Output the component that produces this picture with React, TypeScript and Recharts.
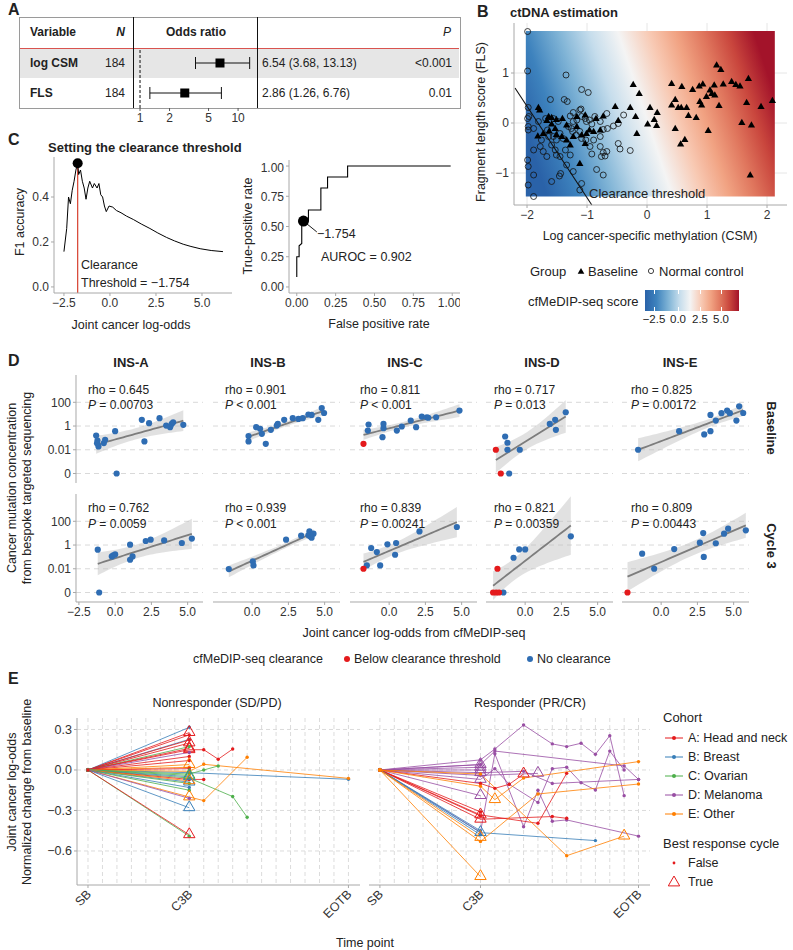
import React from 'react';
import {
  ScatterChart,
  Scatter,
  ComposedChart,
  LineChart,
  Line,
  Area,
  XAxis,
  YAxis,
  CartesianGrid,
  ReferenceLine,
  ReferenceArea,
  ReferenceDot,
  ErrorBar,
} from 'recharts';

const FONT = '"Liberation Sans", Arial, Helvetica, sans-serif';
const AXIS = '#a8a8a8';
const TICK = { fill: '#333', fontSize: 12 };
const RED = '#e41a1c';
const BLUE = '#2f6db3';

// ---- A: forest plot ----
const forestVars = ['log CSM', 'FLS'];
const forestN = [184, 184];
const forestOR = [6.54, 2.86];
const forestLo = [3.68, 1.26];
const forestHi = [13.13, 6.76];
const forestCI = ['6.54 (3.68, 13.13)', '2.86 (1.26, 6.76)'];
const forestP = ['<0.001', '0.01'];
const orTicks = [1, 2, 5, 10];

// ---- B: ctDNA estimation, [CSM, FLS] ----
const baselinePts = [
  [1.16, 1.16], [1.23, 1.07], [0.41, 0.79], [-0.23, 0.77], [0.58, 0.73], [-0.13, 0.59], [0.76, 0.67],
  [0.87, 0.74], [0.93, 0.78], [1.12, 0.76], [1.27, 0.78], [1.41, 0.83], [1.48, 0.77], [1.55, 0.74],
  [1.69, 0.89], [1.05, 0.66], [1.08, 0.59], [0.99, 0.53], [1.13, 0.56], [0.47, 0.47], [0.88, 0.43],
  [0.91, 0.36], [1.66, 0.41], [2.09, 0.45], [1.9, 0.33], [1.2, 0.35], [0.41, 0.36], [0.52, 0.31],
  [0.66, 0.31], [0.57, 0.31], [0.05, 0.31], [-0.28, 0.31], [-0.53, 0.33], [0.17, 0.21], [0.69, 0.15],
  [0.82, 0.11], [0.12, 0.07], [-0.19, 0.13], [0.01, -0.02], [0.16, -0.05], [0.47, -0.11], [1.02, -0.15],
  [1.58, 0.01], [1.74, -0.04], [0.63, -0.33], [0.56, -0.42], [-0.17, -0.21], [-0.48, 0.05], [-0.73, 0.14],
  [-0.85, 0.09], [-1.03, 0.16], [-1.17, 0.13], [-1.41, 0.09], [-1.51, 0.07], [-1.59, 0.11], [-1.64, 0.13],
  [-1.79, 0.26], [-1.81, 0.31], [-1.82, -0.26], [-1.73, -0.21], [-1.63, -0.16], [-1.53, -0.11], [-1.51, -0.23],
  [-1.42, -0.27], [-1.34, -0.34], [-1.28, -0.44], [-1.23, -0.27], [-1.09, -0.24], [-1.03, -0.41], [-1.01, -0.21],
  [-0.96, -0.14], [-0.89, -0.17], [-0.78, -0.14], [-1.12, -0.81], [1.72, -1.04], [-1.17, -0.07], [-1.34, -0.04],
  [-1.59, -0.02], [-1.67, 0.05],
];
const controlPts = [
  [-1.99, 1.83], [-1.99, 1.04], [-1.35, 0.96], [-1.09, 0.67], [-0.98, 0.61], [-1.61, 0.47], [-1.38, 0.47],
  [-1.33, 0.43], [-1.98, 0.31], [-1.97, 0.13], [-1.99, 0.09], [-1.98, -0.07], [-1.98, -0.14], [-1.89, -0.11],
  [-1.81, 0.03], [-1.69, 0.09], [-1.56, 0.09], [-1.48, 0.03], [-1.23, 0.03], [-1.12, 0.26], [-1.1, 0.28],
  [-1.23, 0.21], [-1.28, 0.14], [-1.09, 0.13], [-1.03, 0.09], [-0.96, 0.06], [-0.92, -0.02], [-0.73, -0.13],
  [-0.66, -0.11], [-0.56, -0.06], [-0.48, -0.01], [-0.39, 0.16], [-1.12, -0.17], [-1.18, -0.24], [-1.24, -0.17],
  [-1.09, -0.31], [-1.02, -0.34], [-0.95, -0.47], [-0.92, -0.62], [-0.78, -0.47], [-0.73, -0.59], [-0.7, -0.66],
  [-0.76, -0.67], [-0.67, -0.57], [-0.48, -0.41], [-0.45, -0.52], [-0.28, -0.55], [-1.89, -0.54], [-1.78, -0.47],
  [-1.67, -0.67], [-1.73, -0.57], [-1.59, -0.44], [-1.53, -0.54], [-1.51, -0.64], [-1.45, -0.67], [-1.36, -0.54],
  [-1.28, -0.64], [-1.34, -0.84], [-1.99, -0.74], [-1.98, -0.87], [-1.89, -1.04], [-1.98, -1.24], [-1.59, -1.17],
  [-1.46, -1.06], [-1.44, -1.01], [-1.23, -0.97], [-1.09, -1.21], [-0.84, -0.93], [-0.73, -1.04], [-1.12, -1.34],
  [-1.89, -1.47], [-1.45, -0.21], [-1.4, -0.31], [-1.31, -0.07], [-1.26, -0.11], [-1.17, 0.06], [-1.01, 0.03],
  [-0.87, 0.13], [-0.78, 0.03], [-0.67, 0.19], [-1.66, -0.14], [-1.56, -0.27], [-1.51, -0.34], [-1.64, -0.27],
  [-1.76, -0.34], [-0.78, -0.27], [-0.89, -0.34],
];
const csmTicks = [-2, -1, 0, 1, 2];
const flsTicks = [-1, 0, 1];
const scoreTicks = ['−2.5', '0.0', '2.5', '5.0'];
const rdbu: [number, string][] = [
  [0, '#2a62a8'], [0.12, '#3d82bd'], [0.25, '#80b4d6'], [0.37, '#c6ddec'], [0.48, '#f4f4f4'],
  [0.6, '#f8c9b3'], [0.7, '#f1a383'], [0.8, '#e0775e'], [0.9, '#c9463d'], [1, '#a3132a'],
];

// ---- C: clearance threshold ----
const f1Curve = [
  [-2.5, 0.157], [-2.35, 0.26], [-2.25, 0.4], [-2.15, 0.37], [-2.05, 0.43], [-1.95, 0.47], [-1.85, 0.52],
  [-1.754, 0.55], [-1.7, 0.5], [-1.6, 0.52], [-1.5, 0.47], [-1.4, 0.44], [-1.3, 0.39], [-1.2, 0.44],
  [-1.1, 0.47], [-0.95, 0.44], [-0.85, 0.46], [-0.7, 0.44], [-0.6, 0.46], [-0.5, 0.41], [-0.4, 0.4],
  [-0.3, 0.36], [-0.2, 0.335], [-0.05, 0.36], [0.15, 0.355], [0.35, 0.34], [0.6, 0.33], [0.9, 0.315],
  [1.27, 0.3], [1.7, 0.28], [2.17, 0.26], [2.6, 0.24], [3.08, 0.22], [3.5, 0.205], [3.98, 0.19],
  [4.4, 0.18], [4.9, 0.17], [5.5, 0.162], [6.14, 0.157],
];
const rocCurve = [
  [0, 0.083], [0, 0.25], [0.015, 0.25], [0.015, 0.34], [0.032, 0.36], [0.032, 0.545], [0.075, 0.545],
  [0.075, 0.636], [0.155, 0.636], [0.155, 0.818], [0.198, 0.818], [0.198, 0.909], [0.327, 0.909],
  [0.327, 1], [0.99, 1],
];
const threshold = -1.754;
const bestF1 = 0.55;
const rocPoint = [0.043, 0.545];

// ---- D: [log-odds, log10 concentration (−4 = undetected), below threshold] ----
const insNames = ['INS-A', 'INS-B', 'INS-C', 'INS-D', 'INS-E'];
const rhoBaseline = ['0.645', '0.901', '0.811', '0.717', '0.825'];
const pBaseline = ['= 0.00703', '< 0.001', '< 0.001', '= 0.013', '= 0.00172'];
const rhoCycle3 = ['0.762', '0.939', '0.839', '0.821', '0.809'];
const pCycle3 = ['= 0.0059', '< 0.001', '= 0.00241', '= 0.00359', '= 0.00443'];
const baseA = [[-1.31, -0.8], [-1.22, -1.22], [-1.15, -1.72], [-1.25, -1.45], [-0.78, -1.44], [-0.69, -1.16], [0.0, -0.43], [0.1, -4], [1.84, 0.52], [2.34, 0.24], [2.02, -1.3], [3.06, 0.66], [3.52, 0.04], [3.79, -0.1], [3.9, 0.18], [4.0, 0.32], [4.7, 0.1]];
const baseB = [[-0.25, -0.85], [-0.25, -1.3], [0.28, -0.1], [0.55, -0.23], [0.67, -0.66], [0.94, -1.5], [1.29, -0.32], [1.7, 0.04], [1.77, 0.18], [2.21, 0.52], [2.8, 0.66], [3.19, 0.6], [3.49, 0.66], [3.88, 0.97], [4.1, 0.94], [4.56, 0.52], [4.8, 1.52], [4.96, 1.1]];
const baseC = [[-1.77, -1.5, 1], [-1.47, -0.38], [-1.42, 0.13], [-0.39, 0.18], [-0.39, -0.18], [-0.46, -0.94], [0.53, -0.38], [0.87, -0.04], [1.49, 0.46], [1.86, -0.1], [2.25, 0.8], [2.6, 0.74], [2.7, 0.7], [3.24, 0.74], [4.85, 1.3]];
const baseD = [[-2.02, -2.0, 1], [-1.38, -0.88], [-1.22, -1.41], [-1.22, -2.0], [-0.37, -2.0], [1.7, 0.18], [2.07, 0.52], [2.12, -0.32], [2.8, 1.16], [-1.68, -4, 1], [-1.1, -4]];
const baseE = [[-1.59, -2.0], [1.24, -0.43], [2.97, -0.71], [3.4, -0.43], [3.4, 0.94], [3.77, 0.46], [4.16, 1.08], [4.55, 1.3], [4.74, 1.08], [5.19, 0.46], [5.38, 1.66], [5.66, 1.1]];
const c3A = [[-1.2, -0.39], [-1.1, -4], [-0.23, -0.96], [-0.13, -0.87], [0.0, -0.79], [1.03, 0.03], [1.03, -1.24], [1.2, -0.96], [2.11, 0.34], [2.45, 0.45], [3.38, 0.39], [4.6, 0.17], [5.29, 0.54]];
const c3B = [[-1.61, -2.03], [0.05, -1.38], [0.09, -1.72], [2.34, 0.45], [3.38, 0.79], [3.88, 0.82], [3.95, 1.15], [4.0, 0.73], [4.23, 0.96], [4.1, 0.62]];
const c3C = [[-1.77, -2.0, 1], [-1.54, -1.72], [-1.24, -0.25], [-0.85, -0.59], [-0.62, -1.72], [-0.12, 0.06], [0.48, 0.17], [0.41, -0.82], [2.09, 1.15], [4.67, 1.52]];
const c3D = [[-1.91, -2.0, 1], [-2.21, -4, 1], [-2.0, -4, 1], [-1.8, -4, 1], [-1.5, -4], [-0.8, -1.07], [-0.41, -0.37], [0.0, -0.37], [3.15, 0.73]];
const c3E = [[-2.32, -4, 1], [-1.31, -0.73], [-0.48, -2.0], [0.9, -0.34], [2.67, 0.2], [2.9, 1.01], [2.94, -1.0], [3.77, 0.15], [4.34, 0.96], [4.62, 1.38], [5.84, 1.24]];
const baselineRows = [baseA, baseB, baseC, baseD, baseE];
const cycle3Rows = [c3A, c3B, c3C, c3D, c3E];
const concTicks = [-4, -2, 0, 2];
const concLabels = ['0', '0.01', '1', '100'];
const lodTicks = [-2.5, 0, 2.5, 5];
const insZero = [115, 252, 389, 525, 661];
const insTitleX = [131, 268, 405, 542, 680];
const rhoX = [88, 225, 360, 494, 631];

// ---- E: [cohort, best-response point index, [time index, change]] ----
const cohortKeys = ['A', 'B', 'C', 'D', 'E'];
const cohortNames = ['A: Head and neck', 'B: Breast', 'C: Ovarian', 'D: Melanoma', 'E: Other'];
const cohortColors = ['#e41a1c', '#377eb8', '#4daf4a', '#984ea3', '#ff7f00'];
const timeTickPos = [0, 7, 18];
const timeTickLab = ['SB', 'C3B', 'EOTB'];
const timeGrid = [0, 1, 2, 3, 4, 5, 6, 7, 8, 9, 10, 11, 12, 13, 14, 15, 16, 17, 18];
const chgTicks = [-0.6, -0.3, 0, 0.3];
const nonresponder: [string, number, number[][]][] = [
  ['B', -1, [[0, 0], [7, 0.316]]],
  ['A', 1, [[0, 0], [7, 0.277]]],
  ['A', -1, [[0, 0], [7, 0.26]]],
  ['B', -1, [[0, 0], [7, 0.227]]],
  ['A', -1, [[0, 0], [7, 0.222]]],
  ['A', 1, [[0, 0], [7, 0.2]]],
  ['C', -1, [[0, 0], [7, 0.173]]],
  ['A', 1, [[0, 0], [7, 0.16]]],
  ['A', 1, [[0, 0], [7, 0.15], [8, 0.15], [9, 0.08], [10, 0.155]]],
  ['D', -1, [[0, 0], [7, 0.13]]],
  ['A', -1, [[0, 0], [7, 0.1]]],
  ['A', -1, [[0, 0], [7, 0.07]]],
  ['E', 1, [[0, 0], [7, 0.04]]],
  ['E', -1, [[0, 0], [7, 0.02]]],
  ['A', -1, [[0, 0], [7, 0.01]]],
  ['B', -1, [[0, 0], [7, -0.02], [18, -0.069]]],
  ['E', -1, [[0, 0], [7, -0.01], [8, 0.042], [18, -0.062]]],
  ['C', -1, [[0, 0], [7, -0.03], [8, 0.0], [9, 0.03]]],
  ['C', -1, [[0, 0], [7, -0.06], [10, -0.197], [11, -0.35]]],
  ['A', -1, [[0, 0], [7, -0.07], [8, -0.07]]],
  ['B', 1, [[0, 0], [7, -0.05]]],
  ['C', 1, [[0, 0], [7, -0.04]]],
  ['B', 1, [[0, 0], [7, -0.09]]],
  ['C', -1, [[0, 0], [7, -0.1]]],
  ['E', 1, [[0, 0], [7, -0.08]]],
  ['B', -1, [[0, 0], [7, -0.13]]],
  ['C', -1, [[0, 0], [7, -0.15]]],
  ['E', 1, [[0, 0], [7, -0.2], [8, -0.227], [11, 0.094]]],
  ['D', -1, [[0, 0], [7, -0.21]]],
  ['B', 1, [[0, 0], [7, -0.28]]],
  ['C', -1, [[0, 0], [7, -0.49]]],
  ['A', 1, [[0, 0], [7, -0.48]]],
];
const responder: [string, number, number[][]][] = [
  ['D', 1, [[0, 0], [7, 0.04]]],
  ['D', 1, [[0, 0], [7, 0.02]]],
  ['D', 1, [[0, 0], [7, 0.0]]],
  ['D', -1, [[0, 0], [7, 0.075], [8, 0.155], [10, 0.333], [12, 0.193], [13, 0.173], [14, 0.198], [15, 0.116], [16, 0.254], [17, -0.19]]],
  ['D', -1, [[0, 0], [7, 0.04], [8, 0.14], [17, 0.03], [18, -0.07]]],
  ['D', -1, [[0, 0], [7, -0.46], [8, 0.12], [10, -0.42], [11, -0.15], [12, -0.38], [13, -0.37], [18, -0.49]]],
  ['D', 1, [[0, 0], [7, -0.07], [8, 0.01], [9, -0.106], [11, -0.24], [12, 0.01], [13, 0.02], [14, -0.094], [15, -0.148], [16, 0.14], [17, 0.0]]],
  ['D', 1, [[0, 0], [7, -0.19]]],
  ['D', 2, [[0, 0], [7, -0.04], [11, -0.025]]],
  ['D', 1, [[0, 0], [7, -0.02], [10, -0.01], [12, -0.1], [18, -0.07]]],
  ['A', 1, [[0, 0], [7, -0.333], [11, -0.395], [13, -0.025]]],
  ['A', 1, [[0, 0], [7, -0.365], [12, -0.345], [13, -0.358]]],
  ['A', 4, [[0, 0], [7, -0.1], [8, -0.136], [9, -0.106], [10, -0.03]]],
  ['A', -1, [[0, 0], [7, -0.31]]],
  ['A', -1, [[0, 0], [7, -0.34]]],
  ['B', 1, [[0, 0], [7, -0.464], [15, -0.523]]],
  ['B', -1, [[0, 0], [7, -0.48]]],
  ['B', -1, [[0, 0], [7, -0.45]]],
  ['E', 1, [[0, 0], [7, -0.79]]],
  ['E', 1, [[0, 0], [7, -0.5]]],
  ['E', -1, [[0, 0], [7, -0.53], [11, -0.178], [18, -0.104]]],
  ['E', 2, [[0, 0], [7, -0.12], [8, -0.22], [10, -0.06], [18, 0.062]]],
  ['E', 3, [[0, 0], [7, -0.03], [13, -0.635], [17, -0.49]]],
];

const T975 = [0, 12.71, 4.303, 3.182, 2.776, 2.571, 2.447, 2.365, 2.306, 2.262, 2.228, 2.201, 2.179, 2.16, 2.145, 2.131, 2.12, 2.11, 2.101, 2.093, 2.086];

const minus = (s: string) => s.replace('-', '\u2212');
const fmt = (d: number) => (v: number) => minus(v.toFixed(d));
const colorOf = (k: string) => cohortColors[cohortKeys.indexOf(k)];
const triPath = (cx: number, cy: number, s: number) =>
  `M${cx},${cy - s}L${cx + s * 0.95},${cy + s * 0.65}L${cx - s * 0.95},${cy + s * 0.65}Z`;

// linear fit + 95% band, like geom_smooth(method = "lm")
function smooth(pts: number[][]) {
  const n = pts.length;
  const mx = pts.reduce((s, p) => s + p[0], 0) / n;
  const my = pts.reduce((s, p) => s + p[1], 0) / n;
  let sxx = 0;
  let sxy = 0;
  pts.forEach(([x, y]) => {
    sxx += (x - mx) ** 2;
    sxy += (x - mx) * (y - my);
  });
  const b = sxy / sxx;
  const a = my - b * mx;
  const sse = pts.reduce((s, [x, y]) => s + (y - a - b * x) ** 2, 0);
  const sd = Math.sqrt(sse / (n - 2));
  const t = T975[Math.min(n - 2, 20)];
  const xs = pts.map((p) => p[0]);
  const lo = Math.min(...xs);
  const hi = Math.max(...xs);
  return Array.from({ length: 30 }, (_, i) => {
    const x = lo + ((hi - lo) * i) / 29;
    const f = a + b * x;
    const se = sd * Math.sqrt(1 / n + (x - mx) ** 2 / sxx);
    return { x, fit: f, band: [f - t * se, f + t * se] };
  });
}

// place a chart so that its plot area lands at (left, top, w, h)
function frame(left: number, top: number, w: number, h: number, yW: number, xH: number, mt = 0, mr = 0, ml = 0) {
  return {
    style: { position: 'absolute' as const, left: left - yW - ml, top: top - mt },
    width: ml + yW + w + mr,
    height: mt + h + xH,
    margin: { top: mt, right: mr, bottom: 0, left: ml },
  };
}

function Txt({ x, y, children, size = 12, bold = false, italic = false, anchor = 'start', rot = 0, color = '#222' }: any) {
  const tx = anchor === 'start' ? '0' : anchor === 'middle' ? '-50%' : '-100%';
  return (
    <div
      style={{
        position: 'absolute',
        left: x,
        top: y,
        fontSize: size,
        fontWeight: bold ? 700 : 400,
        fontStyle: italic ? 'italic' : 'normal',
        color,
        whiteSpace: 'nowrap',
        lineHeight: 1,
        transform: rot ? `translate(-50%,-50%) rotate(${rot}deg)` : `translate(${tx},-50%)`,
      }}
    >
      {children}
    </div>
  );
}

function GradientDefs() {
  return (
    <svg width={0} height={0} style={{ position: 'absolute' }}>
      <defs>
        <linearGradient id="cfGrad" x1="0" y1="0.61" x2="1" y2="0.39">
          {rdbu.map(([o, c]) => (
            <stop key={o} offset={o} stopColor={c} />
          ))}
        </linearGradient>
      </defs>
    </svg>
  );
}

function PanelA() {
  const rows = forestVars.map((v, i) => ({
    x: forestOR[i],
    y: i + 0.5,
    err: [forestOR[i] - forestLo[i], forestHi[i] - forestOR[i]],
  }));
  const f = frame(134, 48, 123, 60, 0, 22);
  return (
    <>
      <Txt x={8} y={10} size={16} bold>A</Txt>
      <div style={{ position: 'absolute', left: 19, top: 17, width: 440, height: 90, border: '1px solid #9a9a9a' }} />
      <div style={{ position: 'absolute', left: 20, top: 49, width: 439, height: 29, background: '#e6e6e6' }} />
      <div style={{ position: 'absolute', left: 20, top: 48, width: 439, height: 1, background: '#d9534f' }} />
      <div style={{ position: 'absolute', left: 133, top: 17, width: 1, height: 91, background: '#111' }} />
      <div style={{ position: 'absolute', left: 257, top: 17, width: 1, height: 91, background: '#111' }} />
      <Txt x={30} y={32} bold>Variable</Txt>
      <Txt x={125} y={32} bold italic anchor="end">N</Txt>
      <Txt x={196} y={32} bold anchor="middle">Odds ratio</Txt>
      <Txt x={451} y={32} italic anchor="end">P</Txt>
      {forestVars.map((v, i) => (
        <React.Fragment key={v}>
          <Txt x={30} y={63 + i * 30} bold>{v}</Txt>
          <Txt x={125} y={63 + i * 30} anchor="end">{forestN[i]}</Txt>
          <Txt x={262} y={63 + i * 30}>{forestCI[i]}</Txt>
          <Txt x={452} y={63 + i * 30} anchor="end">{forestP[i]}</Txt>
        </React.Fragment>
      ))}
      <div style={f.style}>
        <ScatterChart width={f.width} height={f.height} margin={f.margin}>
          <XAxis
            type="number"
            dataKey="x"
            scale="log"
            domain={[0.868, 15.6]}
            allowDataOverflow
            ticks={orTicks}
            height={22}
            axisLine={false}
            tickSize={3}
            tickMargin={2}
            tick={TICK}
            stroke="#555"
          />
          <YAxis type="number" dataKey="y" domain={[0, 2]} reversed hide />
          <ReferenceLine x={1} stroke="#111" strokeDasharray="3 2" />
          <Scatter
            data={rows}
            isAnimationActive={false}
            shape={(p: any) => <rect x={p.cx - 4.5} y={p.cy - 4.5} width={9} height={9} fill="#000" />}
          >
            <ErrorBar dataKey="err" direction="x" width={6} stroke="#111" strokeWidth={1} />
          </Scatter>
        </ScatterChart>
      </div>
    </>
  );
}

function PanelB() {
  const base = baselinePts.map(([x, y]) => ({ x, y }));
  const ctrl = controlPts.map(([x, y]) => ({ x, y }));
  const f = frame(514, 23, 273, 182, 30, 22);
  const grad = `linear-gradient(to right, ${rdbu.map(([o, c]) => `${c} ${o * 100}%`).join(', ')})`;
  return (
    <>
      <Txt x={477} y={12} size={16} bold>B</Txt>
      <Txt x={510} y={12} size={13} bold>ctDNA estimation</Txt>
      <div style={f.style}>
        <ScatterChart width={f.width} height={f.height} margin={f.margin}>
          <CartesianGrid stroke="#e6e6e6" horizontalValues={flsTicks} verticalValues={csmTicks} />
          <XAxis
            type="number"
            dataKey="x"
            domain={[-2.217, 2.333]}
            allowDataOverflow
            ticks={csmTicks}
            tickFormatter={fmt(0)}
            height={22}
            stroke={AXIS}
            tickSize={3}
            tick={TICK}
          />
          <YAxis
            type="number"
            dataKey="y"
            domain={[-1.64, 2.0]}
            allowDataOverflow
            ticks={flsTicks}
            tickFormatter={fmt(0)}
            width={30}
            stroke={AXIS}
            tickSize={3}
            tick={TICK}
          />
          <ReferenceArea x1={-2.02} x2={2.13} y1={-1.47} y2={1.84} fill="url(#cfGrad)" fillOpacity={1} stroke="none" />
          <Scatter
            data={ctrl}
            isAnimationActive={false}
            shape={(p: any) => <circle cx={p.cx} cy={p.cy} r={3} fill="none" stroke="#111" strokeWidth={0.8} />}
          />
          <Scatter
            data={base}
            isAnimationActive={false}
            shape={(p: any) => <path d={triPath(p.cx, p.cy, 3.8)} fill="#000" />}
          />
          <ReferenceLine
            segment={[{ x: -2.2, y: 0.7 }, { x: -0.92, y: -1.64 }]}
            stroke="#111"
            strokeWidth={1.1}
          />
        </ScatterChart>
      </div>
      <Txt x={589} y={193} size={13}>Clearance threshold</Txt>
      <Txt x={650} y={236} size={12.5} anchor="middle">Log cancer-specific methylation (CSM)</Txt>
      <Txt x={481} y={122} size={12.5} rot={-90}>Fragment length score (FLS)</Txt>
      <Txt x={530} y={271} size={13}>Group</Txt>
      <svg style={{ position: 'absolute', left: 575, top: 265 }} width={12} height={12}>
        <path d={triPath(6, 6.5, 3.5)} fill="#000" />
      </svg>
      <Txt x={588} y={271} size={13}>Baseline</Txt>
      <svg style={{ position: 'absolute', left: 645, top: 265 }} width={12} height={12}>
        <circle cx={6} cy={6} r={2.6} fill="none" stroke="#111" strokeWidth={0.8} />
      </svg>
      <Txt x={659} y={271} size={13}>Normal control</Txt>
      <Txt x={528} y={301} size={13}>cfMeDIP-seq score</Txt>
      <div style={{ position: 'absolute', left: 645, top: 290, width: 94, height: 21, background: grad }} />
      {[654, 678, 700, 721].map((x, i) => (
        <React.Fragment key={x}>
          <div style={{ position: 'absolute', left: x, top: 290, width: 1, height: 4, background: '#fff' }} />
          <div style={{ position: 'absolute', left: x, top: 307, width: 1, height: 4, background: '#fff' }} />
          <Txt x={x} y={320} size={11.5} anchor="middle">{scoreTicks[i]}</Txt>
        </React.Fragment>
      ))}
    </>
  );
}

function PanelC() {
  const f1 = f1Curve.map(([x, y]) => ({ x, y }));
  const roc = rocCurve.map(([x, y]) => ({ x, y }));
  const fl = frame(54, 157, 178, 136, 40, 24);
  const fr = frame(289, 160, 171, 133, 45, 24);
  return (
    <>
      <Txt x={8} y={140} size={16} bold>C</Txt>
      <Txt x={48} y={147} size={13} bold>Setting the clearance threshold</Txt>
      <div style={fl.style}>
        <LineChart width={fl.width} height={fl.height} margin={fl.margin}>
          <XAxis
            type="number"
            dataKey="x"
            domain={[-3.04, 6.63]}
            allowDataOverflow
            ticks={lodTicks}
            tickFormatter={fmt(1)}
            height={24}
            stroke={AXIS}
            tickSize={3}
            tick={TICK}
          />
          <YAxis
            type="number"
            dataKey="y"
            domain={[-0.027, 0.578]}
            allowDataOverflow
            ticks={[0, 0.2, 0.4]}
            tickFormatter={fmt(1)}
            width={40}
            stroke={AXIS}
            tickSize={3}
            tick={TICK}
          />
          <ReferenceLine
            segment={[{ x: threshold, y: -0.027 }, { x: threshold, y: bestF1 }]}
            stroke="#d7402f"
            strokeWidth={1.2}
          />
          <Line data={f1} dataKey="y" type="linear" stroke="#000" strokeWidth={1} dot={false} isAnimationActive={false} />
          <ReferenceDot x={threshold} y={bestF1} r={5} fill="#000" stroke="none" />
        </LineChart>
      </div>
      <Txt x={81} y={265} size={12.5}>Clearance</Txt>
      <Txt x={81} y={283} size={12.5}>Threshold = −1.754</Txt>
      <Txt x={131} y={325} size={12.5} anchor="middle">Joint cancer log-odds</Txt>
      <Txt x={20} y={222} size={12.5} rot={-90}>F1 accuracy</Txt>
      <div style={fr.style}>
        <LineChart width={fr.width} height={fr.height} margin={fr.margin}>
          <XAxis
            type="number"
            dataKey="x"
            domain={[-0.05, 1.05]}
            allowDataOverflow
            ticks={[0, 0.25, 0.5, 0.75, 1]}
            tickFormatter={fmt(2)}
            height={24}
            stroke={AXIS}
            tickSize={3}
            tick={TICK}
          />
          <YAxis
            type="number"
            dataKey="y"
            domain={[-0.05, 1.05]}
            allowDataOverflow
            ticks={[0, 0.25, 0.5, 0.75, 1]}
            tickFormatter={fmt(2)}
            width={45}
            stroke={AXIS}
            tickSize={3}
            tick={TICK}
          />
          <Line data={roc} dataKey="y" type="linear" stroke="#000" strokeWidth={1.1} dot={false} isAnimationActive={false} />
          <ReferenceLine
            segment={[{ x: rocPoint[0], y: rocPoint[1] }, { x: 0.129, y: 0.455 }]}
            stroke="#000"
            strokeWidth={0.9}
          />
          <ReferenceDot x={rocPoint[0]} y={rocPoint[1]} r={5.5} fill="#000" stroke="none" />
        </LineChart>
      </div>
      <Txt x={317} y={234} size={12.5}>−1.754</Txt>
      <Txt x={321} y={257} size={12.5}>AUROC = 0.902</Txt>
      <Txt x={379} y={324} size={12.5} anchor="middle">False positive rate</Txt>
      <Txt x={248} y={226} size={12.5} rot={-90}>True-positive rate</Txt>
    </>
  );
}

function InsPanel({ pts, col, row }: { pts: number[][]; col: number; row: number }) {
  const showX = row === 1;
  const showY = col === 0;
  const top = row === 0 ? 375 : 494;
  const f = frame(insZero[col] - 39.15, top, 127.6, 108, showY ? 34 : 0, showX ? 22 : 0);
  const band = smooth(pts);
  const blue = pts.filter((p) => !p[2]).map(([x, y]) => ({ x, y }));
  const red = pts.filter((p) => p[2]).map(([x, y]) => ({ x, y }));
  return (
    <div style={f.style}>
      <ComposedChart width={f.width} height={f.height} margin={f.margin}>
        <CartesianGrid vertical={false} horizontalValues={concTicks} stroke="#d9d9d9" strokeDasharray="5 4" />
        <XAxis
          type="number"
          dataKey="x"
          domain={[-2.7, 6.1]}
          allowDataOverflow
          ticks={lodTicks}
          tickFormatter={fmt(1)}
          hide={!showX}
          height={22}
          stroke={AXIS}
          tickSize={3}
          tick={TICK}
        />
        <YAxis
          type="number"
          dataKey="y"
          domain={[-4.8, 4.3]}
          allowDataOverflow
          ticks={concTicks}
          tickFormatter={(v: number) => concLabels[concTicks.indexOf(v)]}
          hide={!showY}
          width={34}
          stroke={AXIS}
          tickSize={3}
          tick={TICK}
        />
        <Area data={band} dataKey="band" type="linear" stroke="none" fill="#bdbdbd" fillOpacity={0.45} isAnimationActive={false} />
        <Line data={band} dataKey="fit" type="linear" stroke="#7d7d7d" strokeWidth={1.8} dot={false} isAnimationActive={false} />
        <Scatter
          data={blue}
          isAnimationActive={false}
          shape={(p: any) => <circle cx={p.cx} cy={p.cy} r={3.1} fill={BLUE} />}
        />
        <Scatter
          data={red}
          isAnimationActive={false}
          shape={(p: any) => <circle cx={p.cx} cy={p.cy} r={3.1} fill={RED} />}
        />
      </ComposedChart>
    </div>
  );
}

function PanelD() {
  return (
    <>
      <Txt x={8} y={361} size={16} bold>D</Txt>
      {insNames.map((n, i) => (
        <Txt key={n} x={insTitleX[i]} y={362} size={13} bold anchor="middle">{n}</Txt>
      ))}
      {baselineRows.map((pts, i) => (
        <InsPanel key={'b' + i} pts={pts} col={i} row={0} />
      ))}
      {cycle3Rows.map((pts, i) => (
        <InsPanel key={'c' + i} pts={pts} col={i} row={1} />
      ))}
      {insNames.map((n, i) => (
        <React.Fragment key={'t' + n}>
          <Txt x={rhoX[i]} y={390}>rho = {rhoBaseline[i]}</Txt>
          <Txt x={rhoX[i]} y={405}><i>P</i> {pBaseline[i]}</Txt>
          <Txt x={rhoX[i]} y={508}>rho = {rhoCycle3[i]}</Txt>
          <Txt x={rhoX[i]} y={524}><i>P</i> {pCycle3[i]}</Txt>
        </React.Fragment>
      ))}
      <Txt x={771} y={428} size={13} bold rot={90}>Baseline</Txt>
      <Txt x={771} y={546} size={13} bold rot={90}>Cycle 3</Txt>
      <Txt x={12} y={488} size={12.5} rot={-90}>Cancer mutation concentration</Txt>
      <Txt x={27} y={488} size={12.5} rot={-90}>from bespoke targeted sequencing</Txt>
      <Txt x={414} y={633} size={12.5} anchor="middle">Joint cancer log-odds from cfMeDIP-seq</Txt>
      <Txt x={193} y={659} size={12.5}>cfMeDIP-seq clearance</Txt>
      <div style={{ position: 'absolute', left: 344, top: 656, width: 6, height: 6, borderRadius: 3, background: RED }} />
      <Txt x={354} y={659} size={12.5}>Below clearance threshold</Txt>
      <div style={{ position: 'absolute', left: 527, top: 656, width: 6, height: 6, borderRadius: 3, background: BLUE }} />
      <Txt x={537} y={659} size={12.5}>No clearance</Txt>
    </>
  );
}

function TimeTick(props: any) {
  const { x, y, payload } = props;
  const i = timeTickPos.indexOf(payload.value);
  if (i < 0) return <g />;
  return (
    <g>
      <line x1={x} x2={x} y1={y - 2} y2={y + 1} stroke={AXIS} />
      <text
        x={x + 4}
        y={y + 8}
        textAnchor="end"
        fontSize={12.5}
        fill="#333"
        transform={`rotate(-45 ${x + 4} ${y + 8})`}
      >
        {timeTickLab[i]}
      </text>
    </g>
  );
}

function makeDot(color: string, best: number) {
  return (p: any) => {
    if (p.index === best) {
      return <path key={p.index} d={triPath(p.cx, p.cy - 1, 6)} fill="none" stroke={color} strokeWidth={1} />;
    }
    return <circle key={p.index} cx={p.cx} cy={p.cy} r={1.7} fill={color} stroke="none" />;
  };
}

function RespPanel({ paths, left, w, showY }: { paths: [string, number, number[][]][]; left: number; w: number; showY: boolean }) {
  const f = frame(left, 718, w, 167, showY ? 50 : 0, 40, 0, 0, showY ? 0 : 24);
  return (
    <div style={f.style}>
      <LineChart width={f.width} height={f.height} margin={f.margin}>
        <CartesianGrid horizontalValues={chgTicks} verticalValues={timeGrid} stroke="#dcdcdc" strokeDasharray="4 3" />
        <XAxis
          type="number"
          dataKey="x"
          domain={[-0.76, 18.8]}
          allowDataOverflow
          ticks={timeGrid}
          interval={0}
          tick={<TimeTick />}
          tickLine={false}
          tickSize={0}
          tickMargin={2}
          height={40}
          stroke={AXIS}
        />
        <YAxis
          type="number"
          dataKey="y"
          domain={[-0.852, 0.385]}
          allowDataOverflow
          ticks={chgTicks}
          tickFormatter={fmt(1)}
          hide={!showY}
          width={50}
          stroke={AXIS}
          tickSize={3}
          tick={{ fill: '#333', fontSize: 12.5 }}
        />
        {paths.map(([c, best, pts], i) => (
          <Line
            key={i}
            data={pts.map(([x, y]) => ({ x, y }))}
            dataKey="y"
            type="linear"
            stroke={colorOf(c)}
            strokeWidth={0.8}
            dot={makeDot(colorOf(c), best)}
            isAnimationActive={false}
          />
        ))}
      </LineChart>
    </div>
  );
}

function PanelE() {
  return (
    <>
      <Txt x={8} y={679} size={16} bold>E</Txt>
      <Txt x={217} y={703} size={12.5} anchor="middle">Nonresponder (SD/PD)</Txt>
      <Txt x={530} y={703} size={12.5} anchor="middle">Responder (PR/CR)</Txt>
      <RespPanel paths={nonresponder} left={77} w={283} showY />
      <RespPanel paths={responder} left={369} w={281} showY={false} />
      <Txt x={12} y={792} size={12.5} rot={-90}>Joint cancer log-odds</Txt>
      <Txt x={27} y={792} size={12.5} rot={-90}>Normalized change from baseline</Txt>
      <Txt x={365} y={943} size={12.5} anchor="middle">Time point</Txt>
      <Txt x={663} y={717} size={13}>Cohort</Txt>
      {cohortNames.map((n, i) => (
        <React.Fragment key={n}>
          <svg style={{ position: 'absolute', left: 663, top: 732 + i * 19 }} width={22} height={12}>
            <line x1={2} x2={20} y1={6} y2={6} stroke={cohortColors[i]} strokeWidth={1} />
            <circle cx={11} cy={6} r={2} fill={cohortColors[i]} />
          </svg>
          <Txt x={688} y={738 + i * 19} size={12.5}>{n}</Txt>
        </React.Fragment>
      ))}
      <Txt x={663} y={843} size={13}>Best response cycle</Txt>
      <svg style={{ position: 'absolute', left: 663, top: 857 }} width={22} height={32}>
        <circle cx={11} cy={6} r={1.4} fill={cohortColors[0]} />
        <path d={triPath(11, 25, 6)} fill="none" stroke={cohortColors[0]} strokeWidth={1} />
      </svg>
      <Txt x={688} y={863} size={12.5}>False</Txt>
      <Txt x={688} y={882} size={12.5}>True</Txt>
    </>
  );
}

export default function App() {
  return (
    <div
      style={{
        position: 'absolute',
        left: 0,
        top: 0,
        width: 793,
        height: 950,
        background: '#fff',
        fontFamily: FONT,
        color: '#222',
        overflow: 'hidden',
      }}
    >
      <GradientDefs />
      <PanelA />
      <PanelB />
      <PanelC />
      <PanelD />
      <PanelE />
    </div>
  );
}
